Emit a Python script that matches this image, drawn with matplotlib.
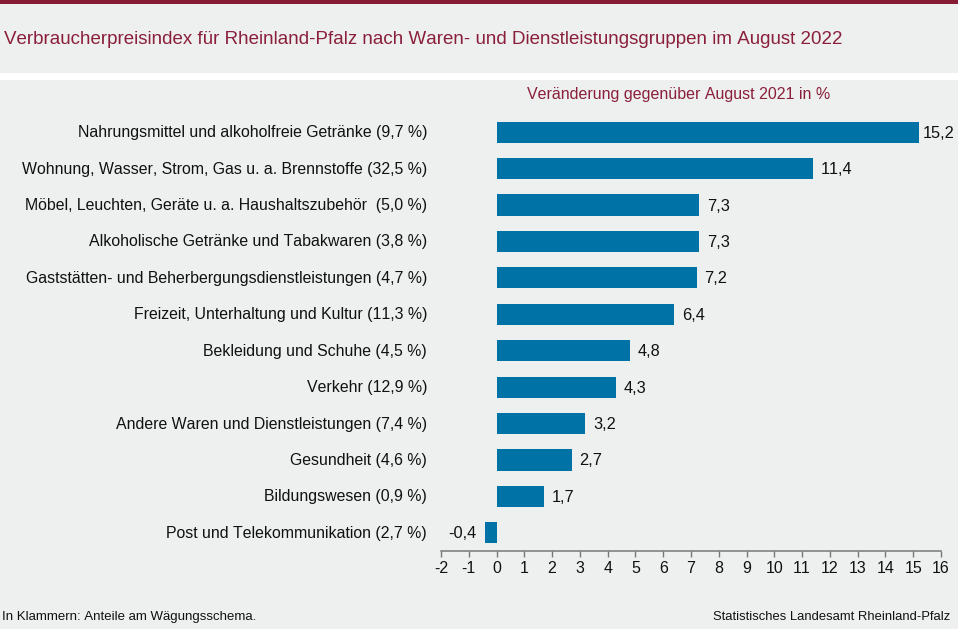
import matplotlib
matplotlib.use("Agg")
import matplotlib.pyplot as plt
from matplotlib.patches import Rectangle
from matplotlib.transforms import ScaledTranslation

plt.rcParams["font.family"] = ["Liberation Sans", "DejaVu Sans"]
plt.rcParams["text.kerning_factor"] = 6

BG = "#EEF0EF"
RED = "#8A1F3B"
BAR = "#0072A6"
TEXT = "#111111"

categories = [
    "Nahrungsmittel und alkoholfreie Getränke (9,7 %)",
    "Wohnung, Wasser, Strom, Gas u. a. Brennstoffe (32,5 %)",
    "Möbel, Leuchten, Geräte u. a. Haushaltszubehör  (5,0 %)",
    "Alkoholische Getränke und Tabakwaren (3,8 %)",
    "Gaststätten- und Beherbergungsdienstleistungen (4,7 %)",
    "Freizeit, Unterhaltung und Kultur (11,3 %)",
    "Bekleidung und Schuhe (4,5 %)",
    "Verkehr (12,9 %)",
    "Andere Waren und Dienstleistungen (7,4 %)",
    "Gesundheit (4,6 %)",
    "Bildungswesen (0,9 %)",
    "Post und Telekommunikation (2,7 %)",
]
values = [15.2, 11.4, 7.3, 7.3, 7.2, 6.4, 4.8, 4.3, 3.2, 2.7, 1.7, -0.4]
ticks = list(range(-2, 17))

W, H = 958, 629
fig = plt.figure(figsize=(W / 100, H / 100), dpi=100, facecolor=BG)

# title band and dark top rule
fig.add_artist(Rectangle((0, 1 - 4 / H), 1, 4 / H, transform=fig.transFigure, color="#851C33", lw=0))
fig.add_artist(Rectangle((0, 1 - 80 / H), 1, 7 / H, transform=fig.transFigure, color="white", lw=0))
fig.text(4 / W, 1 - 40 / H, "Verbraucherpreisindex für Rheinland-Pfalz nach Waren- und Dienstleistungsgruppen im August 2022",
         fontsize=13.5, color=RED, va="center", ha="left")
fig.text(678.5 / W, 1 - 94 / H, "Veränderung gegenüber August 2021 in %", fontsize=11.5, color=RED, va="center", ha="center")

# axes: x from -2 (441 px) to 16 (941 px), y band 114-551 px
ax = fig.add_axes([441 / W, 1 - 551 / H, 500 / W, 437 / H], facecolor=BG)
y = list(range(len(values)))
ax.barh(y, values, height=0.58, color=BAR, zorder=2)
ax.set_xlim(-2, 16)
ax.set_ylim(len(values) - 0.5, -0.5)
ax.set_xticks(ticks)
ax.set_xticklabels([str(t) for t in ticks], fontsize=11.5, color=TEXT)
ax.set_yticks(y)
ax.set_yticklabels(categories, fontsize=11.48, color=TEXT)
ax.tick_params(axis="y", length=0, pad=10)
ax.tick_params(axis="x", length=4, width=1, color="#777777", pad=3.5, direction="out")
for side in ["top", "right", "left"]:
    ax.spines[side].set_visible(False)
ax.spines["bottom"].set_color("#777777")
ax.spines["bottom"].set_linewidth(1.1)

# category labels sit one pixel above the bar centres
nudge = ScaledTranslation(0, 1 / 100, fig.dpi_scale_trans)
for lbl in ax.get_yticklabels():
    lbl.set_transform(lbl.get_transform() + nudge)

for yi, v in zip(y, values):
    label = f"{v:.1f}".replace(".", ",")
    if v >= 0:
        ax.annotate(label, (v, yi), xytext=(8 if v < 15 else 4, -1), textcoords="offset pixels",
                    va="center", ha="left", fontsize=11.8, color=TEXT, annotation_clip=False)
    else:
        ax.annotate(label, (v, yi), xytext=(-9, -1), textcoords="offset pixels",
                    va="center", ha="right", fontsize=11.8, color=TEXT, annotation_clip=False)

fig.text(2 / W, 1 - 617 / H, "In Klammern: Anteile am Wägungsschema.", fontsize=9.5, color=TEXT, va="center", ha="left")
fig.text(950 / W, 1 - 617 / H, "Statistisches Landesamt Rheinland-Pfalz", fontsize=9.4, color=TEXT, va="center", ha="right")

fig.savefig("out.png", dpi=100, facecolor=BG)
